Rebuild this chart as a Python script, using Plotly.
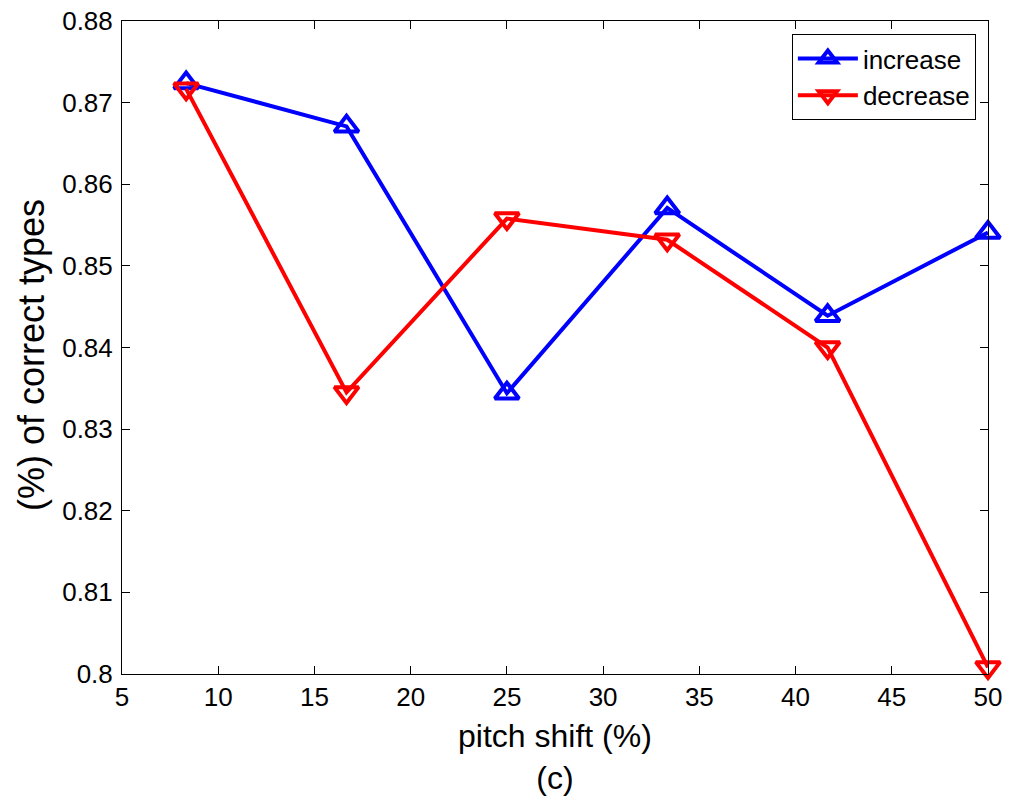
import plotly.graph_objects as go

pitch_shift = [8.333, 16.667, 25.0, 33.333, 41.667, 50.0]
increase = [0.8724, 0.8671, 0.8344, 0.8571, 0.8439, 0.8541]
decrease = [0.8717, 0.8345, 0.8558, 0.8532, 0.8400, 0.8008]

x_ticks = [5, 10, 15, 20, 25, 30, 35, 40, 45, 50]
y_ticks = [0.80, 0.81, 0.82, 0.83, 0.84, 0.85, 0.86, 0.87, 0.88]
y_tick_labels = ["0.8", "0.81", "0.82", "0.83", "0.84", "0.85", "0.86", "0.87", "0.88"]

FONT = "Liberation Sans, Arial, Helvetica, sans-serif"

fig = go.Figure()
fig.add_trace(go.Scatter(
    x=pitch_shift, y=increase, name="increase", mode="lines+markers",
    line=dict(color="#0000FF", width=4),
    marker=dict(symbol="triangle-up-open", size=21, color="#0000FF",
                line=dict(color="#0000FF", width=4)),
    cliponaxis=False,
))
fig.add_trace(go.Scatter(
    x=pitch_shift, y=decrease, name="decrease", mode="lines+markers",
    line=dict(color="#FF0000", width=4),
    marker=dict(symbol="triangle-down-open", size=21, color="#FF0000",
                line=dict(color="#FF0000", width=4)),
    cliponaxis=False,
))

axis_common = dict(
    showgrid=False, zeroline=False, showline=True, linecolor="black", linewidth=1,
    mirror="ticks", ticks="inside", ticklen=8, tickwidth=1, tickcolor="black",
    tickfont=dict(family=FONT, size=26, color="black"), automargin=False,
    ticklabeloverflow="allow",
)

fig.update_xaxes(range=[5, 50.0001], tickvals=x_ticks, **axis_common)
fig.update_yaxes(range=[0.79999, 0.88001], tickvals=y_ticks, ticktext=y_tick_labels,
                 ticklabelstandoff=3, **axis_common)

fig.update_layout(
    width=1011, height=804,
    margin=dict(l=122, r=23, t=21, b=130, autoexpand=False),
    paper_bgcolor="white", plot_bgcolor="white",
    font=dict(family=FONT, color="black"),
    showlegend=True,
    legend=dict(
        x=0.986, y=0.98, xanchor="right", yanchor="top",
        bgcolor="white", bordercolor="black", borderwidth=1,
        font=dict(family=FONT, size=26, color="black"),
        itemwidth=60, tracegroupgap=0,
    ),
    annotations=[
        dict(text="pitch shift (%)<br>(c)", xref="paper", yref="paper", x=0.5, y=-0.127,
             xanchor="center", yanchor="middle", showarrow=False,
             font=dict(family=FONT, size=32, color="black")),
        dict(text="(%) of correct types", xref="paper", yref="paper", x=-0.1047, y=0.489,
             xanchor="center", yanchor="middle", textangle=-90, showarrow=False,
             font=dict(family=FONT, size=36, color="black")),
    ],
)

fig.write_html("out.html",
               config={"displayModeBar": False},
               post_script="document.body.style.margin='0';document.body.style.overflow='hidden';")
